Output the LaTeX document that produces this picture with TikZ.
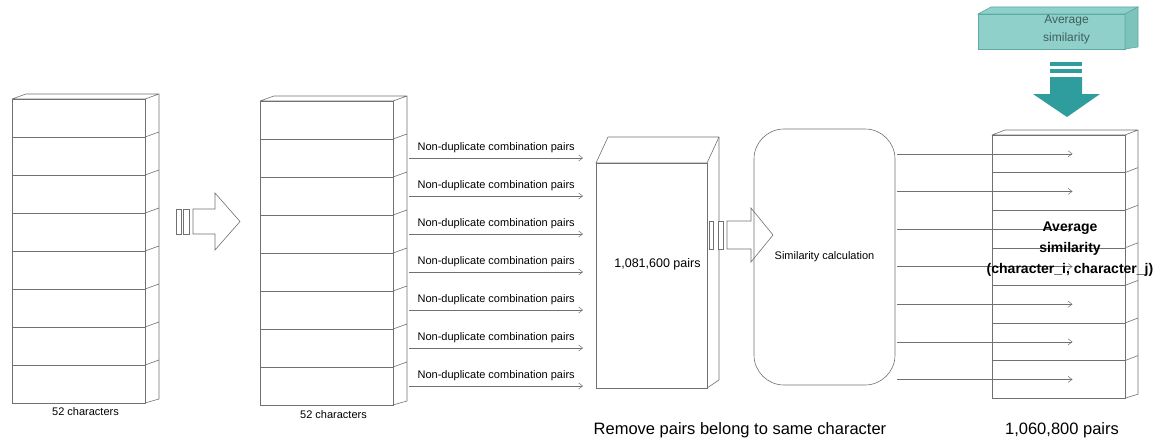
\documentclass[tikz,border=0pt]{standalone}
\usepackage{fontspec}
\setmainfont{Liberation Sans}
\usetikzlibrary{arrows.meta, positioning, calc}

\definecolor{edgegray}{HTML}{707070}
\definecolor{tealfill}{HTML}{8FD1CA}
\definecolor{tealside}{HTML}{7CC3BC}
\definecolor{tealline}{HTML}{5BAAA4}
\definecolor{tealarrow}{HTML}{2F9D9D}
\definecolor{tealtext}{HTML}{3F5E5E}

\begin{document}
\begin{tikzpicture}[
    x=1pt, y=-1pt,
    >={Straight Barb[length=4pt, width=6pt]},
    cell/.style={draw=edgegray, line width=0.6pt, minimum width=133pt,
                 inner sep=0pt, outer sep=0pt},
    box/.style={draw=edgegray, line width=0.6pt, inner sep=0pt, outer sep=0pt},
    face/.style={draw=edgegray, line width=0.6pt, line join=round},
    flow/.style={->, draw=edgegray, line width=0.5pt},
    hollow/.style={draw=edgegray, line width=0.6pt, fill=white},
    small/.style={font=\fontsize{11}{13}\selectfont},
    big/.style={font=\fontsize{16.5}{20}\selectfont}
  ]
  \useasboundingbox (0,0) rectangle (1166,444);

  % input stack
  \node[cell, minimum height=38pt, anchor=north west] (a1) at (12,99) {};
  \foreach \i [count=\j] in {2,...,8}
    \node[cell, minimum height=38pt, below=0pt of a\j] (a\i) {};
  \draw[face] (a1.north west) -- ++(14,-5) -- ++(133,0) -- (a1.north east) -- cycle;
  \draw[face] (a1.north east) ++(14,-5) -- ($(a8.south east)+(14,-4)$) -- (a8.south east);
  \foreach \i in {1,...,7}
    \draw[face] (a\i.south east) -- ++(14,-5);
  \node[small, below=1pt of a8, xshift=7pt] (alabel) {52 characters};

  % hollow arrow
  \draw[hollow] (176,209) rectangle (181,234);
  \draw[hollow] (183,209) rectangle (189,234);
  \draw[hollow] (193,209) -- (215,209) -- (215,193) -- (240,221.5)
    -- (215,250) -- (215,234) -- (193,234) -- cycle;

  % second stack
  \node[cell, minimum height=38pt, anchor=north west] (b1) at (260,101) {};
  \foreach \i [count=\j] in {2,...,8}
    \node[cell, minimum height=38pt, below=0pt of b\j] (b\i) {};
  \draw[face] (b1.north west) -- ++(14,-5) -- ++(133,0) -- (b1.north east) -- cycle;
  \draw[face] (b1.north east) ++(14,-5) -- ($(b8.south east)+(14,-4)$) -- (b8.south east);
  \foreach \i in {1,...,7}
    \draw[face] (b\i.south east) -- ++(14,-5);
  \node[small, below=2pt of b8, xshift=7pt] (blabel) {52 characters};

  % pair box
  \node[box, minimum width=111pt, minimum height=225pt] (pairs) at (651.5,275.5) {};
  \draw[face] (pairs.north west) -- ++(12,-26) -- ++(111,0) -- (pairs.north east) -- cycle;
  \draw[face] (pairs.north east) ++(12,-26) -- ($(pairs.south east)+(12,-8)$) -- (pairs.south east);
  \node[font=\fontsize{12.5}{15}\selectfont] (pairstxt)
    at ([xshift=6pt, yshift=11pt]pairs.center) {1,081,600 pairs};

  \foreach \i in {2,...,8}
    \draw[flow, shorten <=16pt, shorten >=13pt] (b\i.east) -- (pairs.west |- b\i.east)
      node[pos=0, small, anchor=base west, xshift=21pt, yshift=8pt]
        {Non-duplicate combination pairs};

  % hollow arrow
  \draw[hollow] (709,221) rectangle (713,249);
  \draw[hollow] (718,221) rectangle (723,249);
  \draw[hollow] (727,221) -- (751,221) -- (751,208) -- (773,235)
    -- (751,262) -- (751,249) -- (727,249) -- cycle;

  % similarity
  \node[box, rounded corners=30pt, minimum width=141pt, minimum height=256pt, small]
    (sim) at (824.5,257) {Similarity calculation};
  \node[big] (remove) at (740,430) {Remove pairs belong to same character};

  % output stack
  \node[cell, minimum height=37.6pt, anchor=north west] (c1) at (992,135) {};
  \foreach \i [count=\j] in {2,...,7}
    \node[cell, minimum height=37.6pt, below=0pt of c\j] (c\i) {};
  \draw[face] (c1.north west) -- ++(13,-5) -- ++(133,0) -- (c1.north east) -- cycle;
  \draw[face] (c1.north east) ++(13,-5) -- ($(c7.south east)+(13,-4)$) -- (c7.south east);
  \foreach \i in {1,...,6}
    \draw[face] (c\i.south east) -- ++(13,-5);

  \foreach \i in {1,...,7}
    \draw[flow, shorten <=2pt] (sim.east |- c\i.center) -- ([xshift=14pt]c\i.center);

  \node[font=\bfseries\fontsize{14}{21}\selectfont, align=center] (avgpair)
    at (1070,249) {Average\\similarity\\(character\_i, character\_j)};
  \node[big] (outlabel) at (1062,430) {1,060,800 pairs};

  % average similarity input
  \node[draw=tealline, fill=tealfill, line width=0.6pt, minimum width=147pt,
        minimum height=35pt, inner sep=0pt, outer sep=0pt] (avg) at (1051.5,31.5) {};
  \draw[draw=tealline, fill=tealfill, line width=0.6pt]
    (avg.north west) -- ++(13,-7) -- ++(147,0) -- (avg.north east) -- cycle;
  \draw[draw=tealline, fill=tealside, line width=0.6pt]
    (avg.north east) -- ++(13,-7) -- ($(avg.south east)+(13,-2)$) -- (avg.south east) -- cycle;
  \node[text=tealtext, font=\fontsize{12}{18}\selectfont, align=center] (avgtxt)
    at ([xshift=15pt, yshift=2pt]avg.center) {Average\\similarity};

  \fill[tealarrow] (1050,62) rectangle (1082,66);
  \fill[tealarrow] (1050,69) rectangle (1082,73);
  \fill[tealarrow] (1050,77) -- (1082,77) -- (1082,94) -- (1100,94) -- (1067,117)
    -- (1033,94) -- (1050,94) -- cycle;
\end{tikzpicture}
\end{document}
